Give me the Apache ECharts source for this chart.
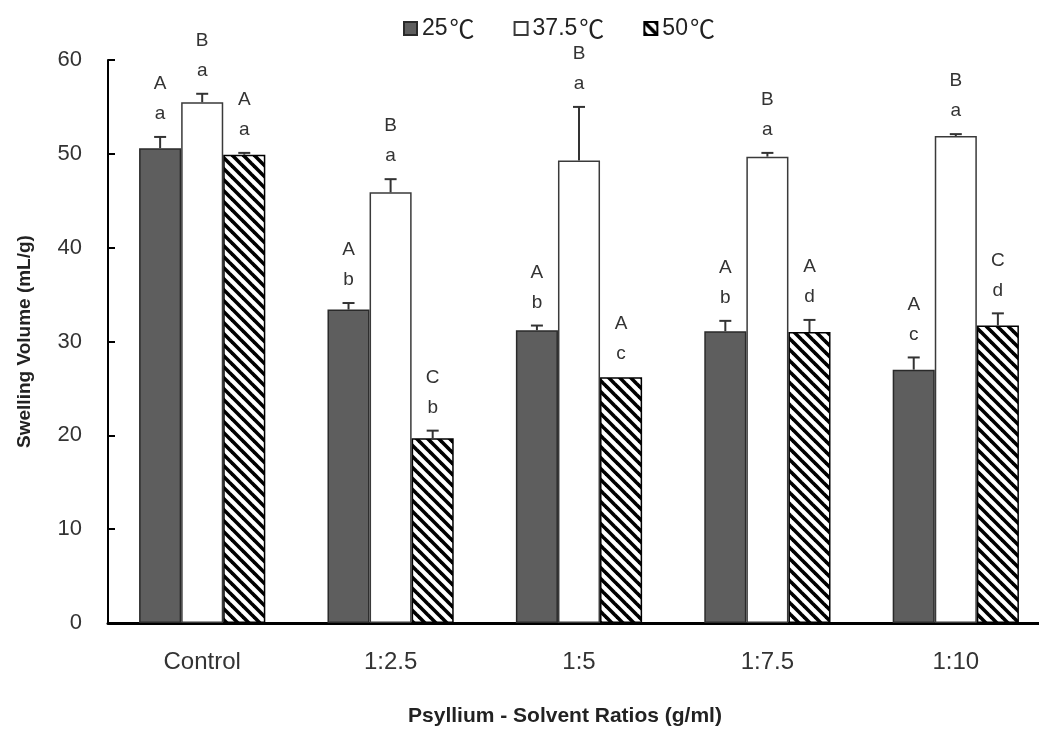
<!DOCTYPE html>
<html>
<head>
<meta charset="utf-8">
<style>
  html, body { margin: 0; padding: 0; background: #ffffff; overflow: hidden; }
  #chart { width: 1039px; height: 729px; }
</style>
<script src="https://cdn.jsdelivr.net/npm/echarts@6/dist/echarts.min.js"></script>
</head>
<body>
<div id="chart"></div>
<script>
// Psyllium : solvent ratios on the category axis
const categories = ['Control', '1:2.5', '1:5', '1:7.5', '1:10'];
const seriesNames = ['25\u2103', '37.5\u2103', '50\u2103'];

// Mean swelling volume (mL/g) per temperature
const vol25 = [50.6, 33.4, 31.2, 31.1, 27.0];
const vol375 = [55.5, 45.9, 49.3, 49.7, 51.9];
const vol50 = [49.9, 19.7, 26.2, 31.0, 31.7];

// Standard deviations
const err25 = [1.2, 0.7, 0.5, 1.1, 1.3];
const err375 = [0.9, 1.4, 5.7, 0.4, 0.2];
const err50 = [0.2, 0.8, 0.0, 1.3, 1.3];

// Significance letters: upper = between temperatures, lower = between ratios
const upper25 = ['A', 'A', 'A', 'A', 'A'];
const lower25 = ['a', 'b', 'b', 'b', 'c'];
const upper375 = ['B', 'B', 'B', 'B', 'B'];
const lower375 = ['a', 'a', 'a', 'a', 'a'];
const upper50 = ['A', 'C', 'A', 'A', 'C'];
const lower50 = ['a', 'b', 'c', 'd', 'd'];

const yTicks = { min: 0, max: 60, interval: 10 };

// Diagonal hatch fill for the 50 degree bars
function hatchPattern() {
  const size = 11;
  const c = document.createElement('canvas');
  c.width = size; c.height = size;
  const ctx = c.getContext('2d');
  ctx.fillStyle = '#ffffff';
  ctx.fillRect(0, 0, size, size);
  ctx.strokeStyle = '#000000';
  ctx.lineWidth = 3.6;
  ctx.lineCap = 'square';
  for (let k = -1; k <= 1; k++) {
    ctx.beginPath();
    ctx.moveTo(k * size, 0);
    ctx.lineTo(k * size + size, size);
    ctx.stroke();
  }
  return c;
}

const CAT_GAP = 0.33;
const sets = [
  { vals: vol25, errs: err25, up: upper25, low: lower25 },
  { vals: vol375, errs: err375, up: upper375, low: lower375 },
  { vals: vol50, errs: err50, up: upper50, low: lower50 }
];

const barStyles = [
  { color: '#5e5e5e', borderColor: '#2a2a2a', borderWidth: 1.5 },
  { color: '#ffffff', borderColor: '#3a3a3a', borderWidth: 1.5 },
  { color: { image: hatchPattern(), repeat: 'repeat' }, borderColor: '#000000', borderWidth: 1.5 }
];

const sansFont = '"Liberation Sans", Arial, "Noto Sans CJK SC", sans-serif';
const cjkFont = '"Noto Sans CJK SC", "Noto Sans CJK JP", sans-serif';
const letterFont = '19px ' + sansFont;

function errorSeries(si) {
  const s = sets[si];
  const data = categories.map((c, i) => [i, s.vals[i], s.errs[i], s.up[i], s.low[i]]);
  return {
    type: 'custom',
    name: seriesNames[si] + ' sd',
    data: data,
    encode: { x: 0, y: 1 },
    z: 5,
    silent: true,
    renderItem: function (params, api) {
      const idx = api.value(0);
      const val = api.value(1);
      const err = api.value(2);
      const band = api.size([1, 0])[0];
      const barW = band * (1 - CAT_GAP) / 3;
      const base = api.coord([idx, val]);
      const x = base[0] + (si - 1) * barW;
      const yTop = api.coord([idx, val + err])[1];
      const children = [];
      if (err > 0) {
        children.push({
          type: 'line',
          shape: { x1: x, y1: base[1], x2: x, y2: yTop },
          style: { stroke: '#333333', lineWidth: 2 }
        });
        children.push({
          type: 'line',
          shape: { x1: x - 6, y1: yTop, x2: x + 6, y2: yTop },
          style: { stroke: '#333333', lineWidth: 2 }
        });
      }
      const row = data[params.dataIndex];
      children.push({
        type: 'text',
        style: {
          text: row[4], x: x, y: yTop - 23,
          align: 'center', verticalAlign: 'middle',
          font: letterFont, fill: '#333333'
        }
      });
      children.push({
        type: 'text',
        style: {
          text: row[3], x: x, y: yTop - 53,
          align: 'center', verticalAlign: 'middle',
          font: letterFont, fill: '#333333'
        }
      });
      return { type: 'group', children: children };
    }
  };
}

const barSeries = sets.map((s, si) => ({
  type: 'bar',
  name: seriesNames[si],
  data: s.vals,
  barGap: '0%',
  barCategoryGap: (CAT_GAP * 100) + '%',
  itemStyle: barStyles[si],
  emphasis: { disabled: true }
}));

const chart = echarts.init(document.getElementById('chart'), null, { renderer: 'canvas' });
chart.setOption({
  animation: false,
  backgroundColor: '#ffffff',
  legend: {
    data: seriesNames,
    top: 11,
    left: 398,
    itemWidth: 13,
    itemHeight: 13,
    itemGap: 39,
    icon: 'rect',
    formatter: function (name) {
      return '{n|' + name.replace('\u2103', '') + '}{c|\u2103}';
    },
    textStyle: {
      color: '#222222',
      rich: {
        n: { fontFamily: sansFont, fontSize: 23, color: '#222222' },
        c: { fontFamily: cjkFont, fontSize: 25, color: '#222222', padding: [0, 0, 0, 2] }
      }
    }
  },
  grid: { left: 108, top: 60, width: 942, height: 563, outerBoundsMode: 'none', containLabel: false },
  xAxis: {
    type: 'category',
    data: categories,
    name: 'Psyllium - Solvent Ratios (g/ml)',
    nameLocation: 'middle',
    nameGap: 83,
    nameTextStyle: { fontFamily: sansFont, fontWeight: 'bold', fontSize: 21, color: '#222222', padding: [0, 28, 0, 0] },
    axisLine: { show: true, lineStyle: { color: '#000000', width: 3 } },
    axisTick: { show: false },
    axisLabel: { margin: 27, fontFamily: sansFont, fontSize: 24, color: '#333333' },
    splitLine: { show: false }
  },
  yAxis: {
    type: 'value',
    min: yTicks.min,
    max: yTicks.max,
    interval: yTicks.interval,
    name: 'Swelling Volume (mL/g)',
    nameLocation: 'middle',
    nameGap: 74,
    nameTextStyle: { fontFamily: sansFont, fontWeight: 'bold', fontSize: 19, color: '#222222' },
    axisLine: { show: true, lineStyle: { color: '#000000', width: 2 } },
    axisTick: { show: true, inside: true, length: 7, lineStyle: { color: '#000000', width: 2 } },
    axisLabel: { margin: 26, fontFamily: sansFont, fontSize: 22, color: '#333333' },
    splitLine: { show: false }
  },
  series: barSeries.concat([errorSeries(0), errorSeries(1), errorSeries(2)])
});
</script>
</body>
</html>
